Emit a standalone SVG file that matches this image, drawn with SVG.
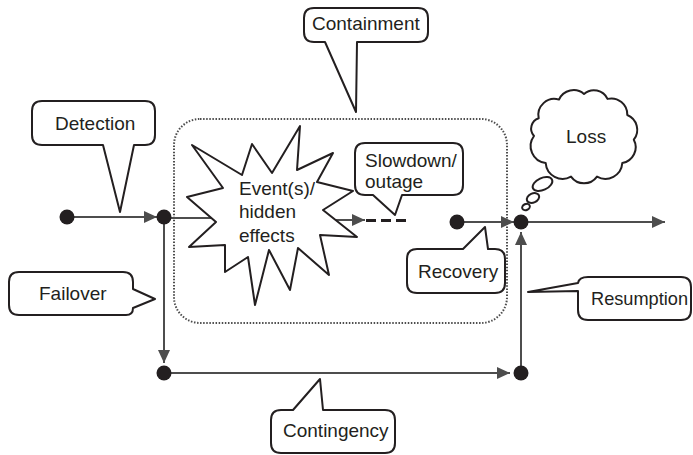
<svg xmlns="http://www.w3.org/2000/svg" width="693" height="455" viewBox="0 0 693 455">
  <style>
    .callout { fill: #ffffff; stroke: #231f20; stroke-width: 2; stroke-linejoin: round; }
    .label { font-family: "Liberation Sans", Arial, sans-serif; font-size: 19px; fill: #231f20; }
    .flow { fill: none; stroke: #4d4d4d; stroke-width: 2; }
    .arrow { marker-end: url(#head); }
    .dot { fill: #231f20; }
    .zone { fill: none; stroke: #4d4d4d; stroke-width: 2; stroke-dasharray: 1.5 1.6; }
  </style>
  <defs>
    <marker id="head" markerUnits="userSpaceOnUse" markerWidth="13" markerHeight="12" refX="13" refY="6" orient="auto">
      <path d="M0,0 L13,6 L0,12 Z" fill="#4d4d4d"/>
    </marker>
  </defs>

  <rect width="693" height="455" fill="#ffffff"/>

  <!-- containment zone -->
  <g id="containment-zone">
    <rect class="zone" x="174" y="119" width="333" height="204" rx="26" ry="26"/>
  </g>

  <!-- connectors -->
  <g id="connectors">
    <line class="flow arrow" x1="67" y1="217" x2="157" y2="217"/>
    <line class="flow" x1="164" y1="218" x2="217" y2="218"/>
    <line class="flow arrow" x1="164" y1="217" x2="164" y2="363"/>
    <line class="flow arrow" x1="164" y1="373" x2="510" y2="373"/>
    <line class="flow arrow" x1="521" y1="373" x2="521" y2="232"/>
    <line class="flow arrow" x1="336" y1="220" x2="365" y2="220"/>
    <line x1="366" y1="220.5" x2="407" y2="220.5" stroke="#231f20" stroke-width="3" stroke-dasharray="10 5"/>
    <line class="flow arrow" x1="457" y1="222" x2="514" y2="222"/>
    <line class="flow arrow" x1="521" y1="222" x2="665" y2="222"/>
  </g>

  <!-- junction points -->
  <g id="junctions">
    <circle id="start" class="dot" cx="67" cy="217" r="7.5"/>
    <circle id="split" class="dot" cx="164" cy="217" r="7.5"/>
    <circle id="contingency-start" class="dot" cx="164" cy="373" r="7.5"/>
    <circle id="contingency-end" class="dot" cx="521" cy="373" r="7.5"/>
    <circle id="recovery-start" class="dot" cx="457" cy="222" r="7.5"/>
    <circle id="rejoin" class="dot" cx="521" cy="222" r="7.5"/>
  </g>

  <!-- event burst -->
  <g id="event">
    <polygon class="callout" points="192,145 242,175 252,144 272,173 300,126 297,170 333,153 317,182 353,191 323,210 357,237 320,235 329,275 298,248 290,290 269,250 255,305 248,257 225,272 225,245 189,247 216,222 187,197 223,188"/>
    <text class="label" x="239" y="195">Event(s)/</text>
    <text class="label" x="239" y="218">hidden</text>
    <text class="label" x="239" y="242">effects</text>
  </g>

  <g id="detection">
    <path class="callout" d="M42,101 H145 Q155,101 155,111 V135 Q155,145 145,145 H134 L120,212 L103,145 H42 Q32,145 32,135 V111 Q32,101 42,101 Z"/>
    <text class="label" x="55" y="130">Detection</text>
  </g>

  <g id="containment">
    <path class="callout" d="M314,8 H418 Q428,8 428,18 V32 Q428,42 418,42 H357 L356,112 L325,42 H314 Q304,42 304,32 V18 Q304,8 314,8 Z"/>
    <text class="label" x="312" y="30">Containment</text>
  </g>

  <g id="slowdown">
    <path class="callout" d="M365,143 H453 Q463,143 463,153 V185 Q463,195 453,195 H402 L395,215 L373,195 H365 Q355,195 355,185 V153 Q355,143 365,143 Z"/>
    <text class="label" x="365" y="167">Slowdown/</text>
    <text class="label" x="365" y="188">outage</text>
  </g>

  <g id="loss">
    <path class="callout" d="M538.7,118.2 A16,16 0 0 1 559,99.6 A16,16 0 0 1 584,94 A15,15 0 0 1 607.5,98.9 A16,16 0 0 1 627.3,115 A16,16 0 0 1 633.8,139.7 A16,16 0 0 1 622.3,163 A17,17 0 0 1 597,176.6 A16,16 0 0 1 571,176.6 A17,17 0 0 1 545.7,163 A17,17 0 0 1 534,136 A11,11 0 0 1 538.7,118.2 Z"/>
    <ellipse class="callout" cx="542.5" cy="184" rx="10.5" ry="6" transform="rotate(-25 542.5 184)"/>
    <ellipse class="callout" cx="533" cy="198" rx="6.5" ry="4.5" transform="rotate(-25 533 198)"/>
    <ellipse class="callout" cx="526" cy="207" rx="4" ry="3" transform="rotate(-25 526 207)"/>
    <text class="label" x="566" y="143">Loss</text>
  </g>

  <g id="recovery">
    <path class="callout" d="M417,249 H463 L485,227 L488,249 H495 Q505,249 505,259 V283 Q505,293 495,293 H417 Q407,293 407,283 V259 Q407,249 417,249 Z"/>
    <text class="label" x="418" y="278">Recovery</text>
  </g>

  <g id="failover">
    <path class="callout" d="M19,272 H123 Q133,272 133,282 V289 L155,299 L133,308 Q133,315 126,315 H19 Q9,315 9,305 V282 Q9,272 19,272 Z"/>
    <text class="label" x="39" y="300">Failover</text>
  </g>

  <g id="resumption">
    <path class="callout" d="M528,292 L578,283 Q579,277 588,277 H681 Q691,277 691,287 V310 Q691,320 681,320 H588 Q578,320 578,310 V291 Z"/>
    <text class="label" x="591" y="305" textLength="97" lengthAdjust="spacingAndGlyphs">Resumption</text>
  </g>

  <g id="contingency">
    <path class="callout" d="M281,410 H293 L320,379 L323,410 H385 Q395,410 395,420 V443 Q395,453 385,453 H281 Q271,453 271,443 V420 Q271,410 281,410 Z"/>
    <text class="label" x="283" y="437">Contingency</text>
  </g>
</svg>
